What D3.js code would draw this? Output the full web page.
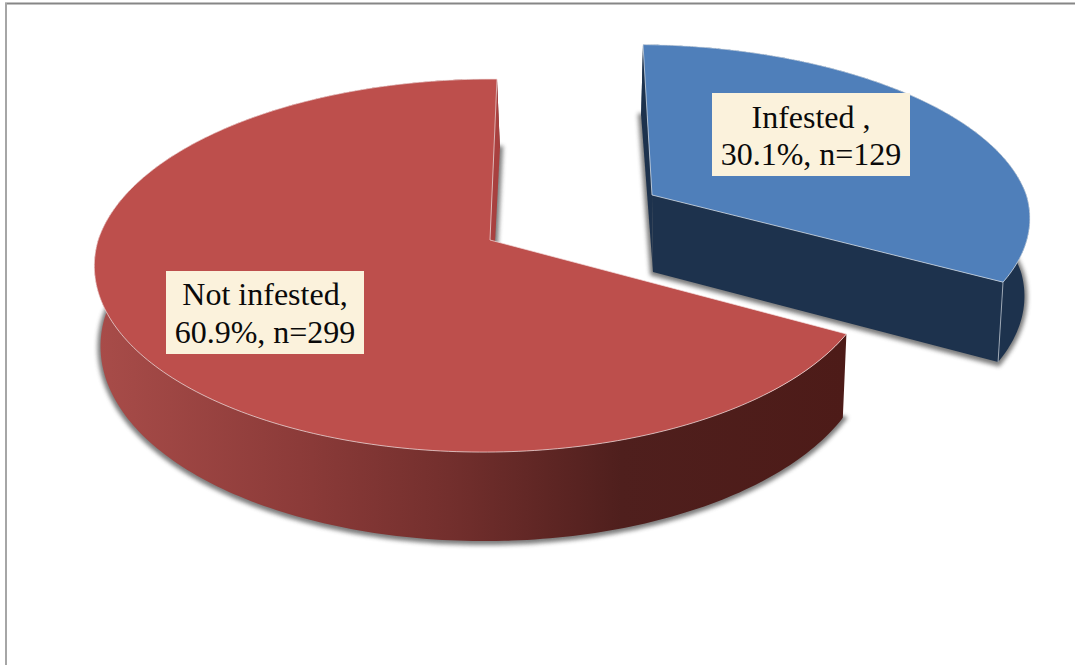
<!DOCTYPE html>
<html>
<head>
<meta charset="utf-8">
<script src="https://cdn.jsdelivr.net/npm/d3@7"></script>
<style>
  html, body { margin: 0; padding: 0; background: #fff; }
  svg { display: block; }
  text { font-family: "Liberation Serif", "Times New Roman", serif; fill: #0a0a0a; }
</style>
</head>
<body>
<svg id="chart" width="1075" height="665"></svg>
<script>
// Chart values
const categories = ["Infested", "Not infested"];
const percents = [30.1, 60.9];
const counts = [129, 299];
const labelLines = [
  ["Infested ,", "30.1%, n=129"],
  ["Not infested,", "60.9%, n=299"]
];

// Perspective of the tilted disc
const tiltNear = 0.137;

// Where each exploded wedge sits and how it is painted
const wedgeStyle = [
  { cx: 652, cy: 195, rx: 383, ry: 171, side: 0.023, lean: 9,
    vanishX: 710, shrink: 0.017, wallLean: -3, d0: 77, d1: 6,
    top: "#4f7fba", wall: "#1d324d", cut: "#1d324d", edge: "rgba(225,232,240,0.7)",
    box: [712, 93, 198, 83], lineY: [128, 165], textX: 811 },
  { cx: 490, cy: 240, rx: 386, ry: 183, side: 0.015, lean: -7,
    vanishX: 570, shrink: 0.013, wallLean: 2, d0: 79, d1: 10,
    top: "#bd4f4c", wall: "url(#redWall)", cut: "#a8403f", edge: "rgba(245,225,225,0.7)",
    box: [166, 271, 198, 83], lineY: [305, 343], textX: 265 }
];

const svg = d3.select("#chart");
const defs = svg.append("defs");

const blur = defs.append("filter").attr("id", "soft")
  .attr("x", "-5%").attr("y", "-5%").attr("width", "110%").attr("height", "110%");
blur.append("feGaussianBlur").attr("stdDeviation", 2);

const redGrad = defs.append("linearGradient").attr("id", "redWall")
  .attr("gradientUnits", "userSpaceOnUse")
  .attr("x1", 97).attr("x2", 846).attr("y1", 0).attr("y2", 0);
[[0, "#a84c49"], [0.27, "#8c3b39"], [0.47, "#732f2d"], [0.7, "#4f1f1d"], [1, "#4d1b18"]]
  .forEach(([o, c]) => redGrad.append("stop").attr("offset", o).attr("stop-color", c));

// Frame around the plot
const frame = svg.append("g");
frame.append("line").attr("x1", 5).attr("x2", 1075).attr("y1", 3.5).attr("y2", 3.5)
  .attr("stroke", "#868686").attr("stroke-width", 2);
frame.append("line").attr("x1", 6).attr("x2", 6).attr("y1", 3).attr("y2", 665)
  .attr("stroke", "#a6a6a6").attr("stroke-width", 2);

const wedges = d3.pie().sort(null).startAngle(0).endAngle(2 * Math.PI)(percents);

function topPoint(angle, r, s) {
  const X = r * Math.sin(angle), Y = -r * Math.cos(angle);
  const f = 1 / (1 - tiltNear * Y + s.side * X);
  return [s.cx + s.rx * X * f + s.lean * Math.min(Y, 0), s.cy + s.ry * Y * f];
}
function bottomPoint(angle, r, s) {
  const Y = -r * Math.cos(angle);
  const [x, y] = topPoint(angle, r, s);
  return [x + (s.vanishX - x) * s.shrink - s.wallLean * Math.min(Y, 0), y + s.d0 + s.d1 * Y];
}
const arcAngles = d => d3.range(0, 241).map(i => d.startAngle + (d.endAngle - d.startAngle) * i / 240);
const line = d3.line();

const slices = wedges.map((d, i) => {
  const s = wedgeStyle[i], angles = arcAngles(d);
  return {
    s,
    topRim: angles.map(a => topPoint(a, 1, s)),
    lowRim: angles.map(a => bottomPoint(a, 1, s)),
    topApex: topPoint(0, 0, s),
    lowApex: bottomPoint(0, 0, s)
  };
});

// Painted back to front: the red wedge first, the detached blue one over it
[1, 0].forEach(i => {
  const { s, topRim, lowRim, topApex, lowApex } = slices[i];
  const g = svg.append("g").attr("class", categories[i]);
  const last = topRim.length - 1;

  // Soft cast shadow following the lower rim
  g.append("path")
    .attr("d", line([lowApex, ...lowRim]) + "Z")
    .attr("transform", "translate(0,1)")
    .attr("fill", "#666").attr("stroke", "#666").attr("stroke-width", 6)
    .attr("filter", "url(#soft)").attr("opacity", 0.85);

  // Outer curved wall
  g.append("path")
    .attr("d", line([...topRim, ...lowRim.slice().reverse()]) + "Z")
    .attr("fill", s.wall);

  // Straight cut faces; the one at the wedge's start angle only shows on the blue wedge
  if (i === 0) {
    g.append("path")
      .attr("d", line([topApex, topRim[0], lowRim[0], lowApex]) + "Z")
      .attr("fill", s.cut);
  }
  g.append("path")
    .attr("d", line([topApex, topRim[last], lowRim[last], lowApex]) + "Z")
    .attr("fill", s.cut);

  // Corner highlight where the cut meets the curved wall
  if (i === 0) {
    g.append("line")
      .attr("x1", topRim[last][0]).attr("y1", topRim[last][1])
      .attr("x2", lowRim[last][0]).attr("y2", lowRim[last][1])
      .attr("stroke", "rgba(215,222,232,0.65)").attr("stroke-width", 1);
  }

  // Top face with its thin bevel line
  g.append("path")
    .attr("d", line([topApex, ...topRim]) + "Z")
    .attr("fill", s.top)
    .attr("stroke", s.edge).attr("stroke-width", 1).attr("stroke-linejoin", "round");
});

// Data labels on cream boxes
slices.forEach(({ s }, i) => {
  const g = svg.append("g").attr("class", "label");
  g.append("rect")
    .attr("x", s.box[0]).attr("y", s.box[1])
    .attr("width", s.box[2]).attr("height", s.box[3])
    .attr("fill", "#fbf2dc");
  labelLines[i].forEach((t, j) => {
    g.append("text")
      .attr("x", s.textX).attr("y", s.lineY[j])
      .attr("text-anchor", "middle")
      .attr("font-size", 32)
      .text(t);
  });
});
</script>
</body>
</html>
